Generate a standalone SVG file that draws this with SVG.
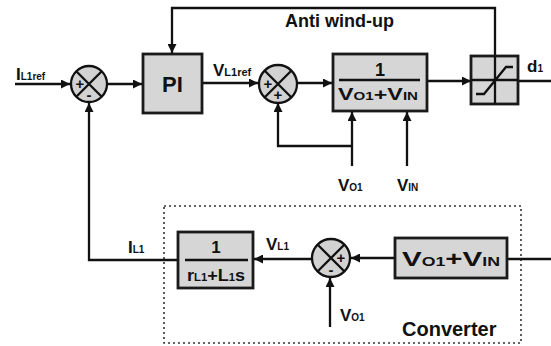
<svg xmlns="http://www.w3.org/2000/svg" width="551" height="346" viewBox="0 0 551 346">
<style>
.ln{fill:none;stroke:#111;stroke-width:2.3}
.bx{fill:#d6d6d6;stroke:#1a1a1a;stroke-width:2.8}
.sm{fill:#d2d2d2;stroke:#111;stroke-width:2.3}
.t{font-family:"Liberation Sans",Arial,sans-serif;font-weight:bold;fill:#111}
.m{font-size:17px}
.s{font-size:10px}
.sg{font-family:"Liberation Sans",Arial,sans-serif;font-weight:bold;fill:#111;font-size:15px;text-anchor:middle}
.dash{fill:none;stroke:#333;stroke-width:1.6;stroke-dasharray:2 3}
</style>
<defs>
<marker id="ar" viewBox="0 0 10 10" refX="10" refY="5" markerWidth="10" markerHeight="9" markerUnits="userSpaceOnUse" orient="auto">
<path d="M0,0 L10,5 L0,10 z" fill="#111"/>
</marker>
</defs>
<rect width="551" height="346" fill="#fff"/>
<g id="converter-frame"><rect class="dash" x="164" y="206" width="357" height="137"/></g>
<g id="connectors">
<path class="ln" d="M15,84 H70" marker-end="url(#ar)"/>
<path class="ln" d="M107,84 H142" marker-end="url(#ar)"/>
<path class="ln" d="M202,83 H258" marker-end="url(#ar)"/>
<path class="ln" d="M297,83 H332" marker-end="url(#ar)"/>
<path class="ln" d="M427,81 H471" marker-end="url(#ar)"/>
<path class="ln" d="M518,81 H551"/>
<path class="ln" d="M495,57 V8 H172 V53" marker-end="url(#ar)"/>
<path class="ln" d="M352,166 V112" marker-end="url(#ar)"/>
<path class="ln" d="M352,146 H278 V103" marker-end="url(#ar)"/>
<path class="ln" d="M407,166 V112" marker-end="url(#ar)"/>
<path class="ln" d="M551,259 H507"/>
<path class="ln" d="M395,258 H351" marker-end="url(#ar)"/>
<path class="ln" d="M312,259 H254" marker-end="url(#ar)"/>
<path class="ln" d="M178,260 H89 V103" marker-end="url(#ar)"/>
<path class="ln" d="M330,327 V278" marker-end="url(#ar)"/>
</g>
<g id="sum1">
<circle class="sm" cx="89" cy="84" r="18"/>
<path class="ln" d="M76,71 L102,97 M102,71 L76,97"/>
<text class="sg" x="80" y="89">+</text>
<text class="sg" x="89" y="100">-</text>
</g>
<g id="pi">
<rect class="bx" x="143" y="54" width="59" height="59"/>
<text class="t" x="172.5" y="92" font-size="22" text-anchor="middle">PI</text>
</g>
<g id="sum2">
<circle class="sm" cx="278" cy="84" r="19"/>
<path class="ln" d="M264.5,70.5 L291.5,97.5 M291.5,70.5 L264.5,97.5"/>
<text class="sg" x="268" y="89">+</text>
<text class="sg" x="278" y="100">+</text>
</g>
<g id="gain">
<rect class="bx" x="333" y="54" width="94" height="57"/>
<text class="t" x="380" y="76" font-size="18" text-anchor="middle">1</text>
<path class="ln" d="M339,80 H420"/>
<text class="t" x="338" y="100" textLength="80" lengthAdjust="spacingAndGlyphs"><tspan font-size="17">V</tspan><tspan font-size="11">O1</tspan><tspan font-size="17">+V</tspan><tspan font-size="11">IN</tspan></text>
</g>
<g id="saturation">
<rect class="bx" x="471" y="56" width="47" height="48"/>
<path class="ln" d="M495,56 V104 M471,80 H518"/>
<path class="ln" d="M476,94 H484 L506,67 H513"/>
</g>
<g id="sum3">
<circle class="sm" cx="331" cy="258" r="19"/>
<path class="ln" d="M317.5,244.5 L344.5,271.5 M344.5,244.5 L317.5,271.5"/>
<text class="sg" x="341" y="263">+</text>
<text class="sg" x="331" y="275">-</text>
</g>
<g id="plant">
<rect class="bx" x="178" y="232" width="75" height="56"/>
<text class="t" x="216" y="253" font-size="17" text-anchor="middle">1</text>
<path class="ln" d="M185,260 H248"/>
<text class="t" x="187" y="281" textLength="58" lengthAdjust="spacingAndGlyphs"><tspan font-size="16">r</tspan><tspan font-size="10">L1</tspan><tspan font-size="16">+L</tspan><tspan font-size="10">1</tspan><tspan font-size="16">s</tspan></text>
</g>
<g id="vsum">
<rect class="bx" x="395" y="238" width="112" height="40"/>
<text class="t" x="402" y="266" textLength="98" lengthAdjust="spacingAndGlyphs"><tspan font-size="20">V</tspan><tspan font-size="12">O1</tspan><tspan font-size="20">+V</tspan><tspan font-size="12">IN</tspan></text>
</g>
<g id="labels">
<text class="t" x="16" y="80"><tspan class="m">I</tspan><tspan class="s" font-size="11">L1ref</tspan></text>
<text class="t" x="213" y="76"><tspan class="m">V</tspan><tspan font-size="11">L1ref</tspan></text>
<text class="t" x="285" y="27" font-size="18">Anti wind-up</text>
<text class="t" x="527" y="72"><tspan class="m">d</tspan><tspan class="s">1</tspan></text>
<text class="t" x="338" y="191"><tspan class="m">V</tspan><tspan class="s">O1</tspan></text>
<text class="t" x="397" y="191"><tspan class="m">V</tspan><tspan class="s">IN</tspan></text>
<text class="t" x="128" y="253"><tspan class="m">I</tspan><tspan class="s">L1</tspan></text>
<text class="t" x="266" y="250"><tspan class="m">V</tspan><tspan class="s">L1</tspan></text>
<text class="t" x="340" y="321"><tspan class="m">V</tspan><tspan class="s">O1</tspan></text>
<text class="t" x="402" y="336" font-size="20">Converter</text>
</g>
</svg>
